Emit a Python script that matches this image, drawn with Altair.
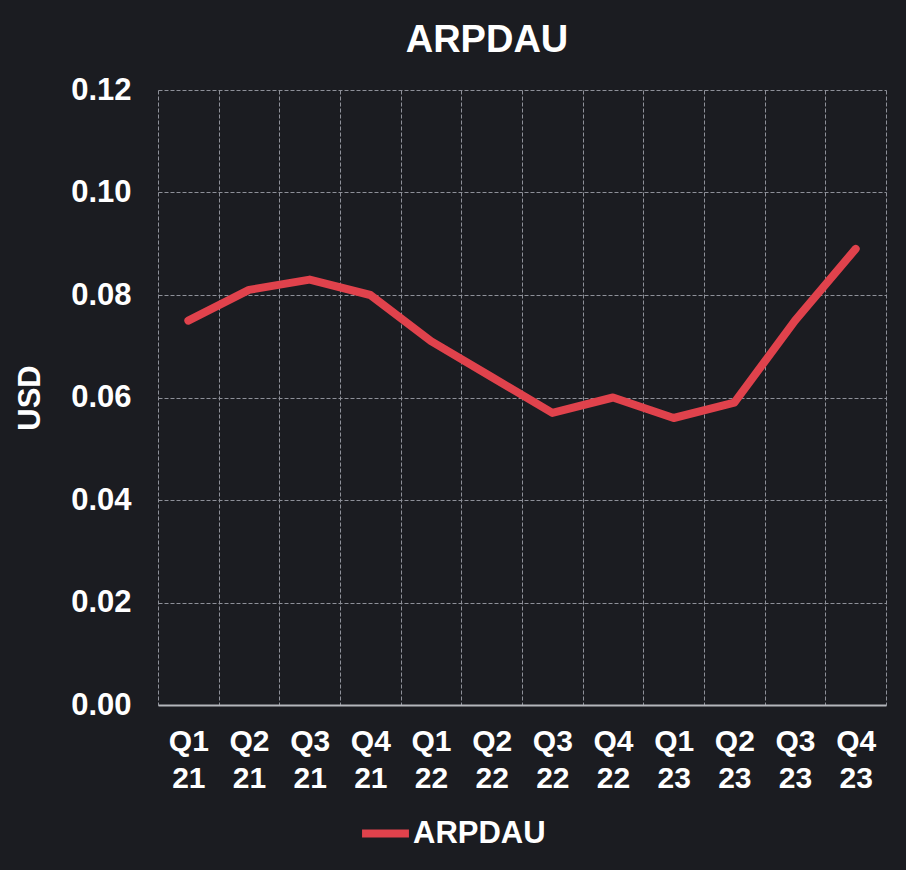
import altair as alt
import pandas as pd

quarters = ["Q1 21", "Q2 21", "Q3 21", "Q4 21", "Q1 22", "Q2 22",
            "Q3 22", "Q4 22", "Q1 23", "Q2 23", "Q3 23", "Q4 23"]
arpdau = [0.075, 0.081, 0.083, 0.080, 0.071, 0.064,
          0.057, 0.060, 0.056, 0.059, 0.075, 0.089]
series = ["ARPDAU"] * len(quarters)

df = pd.DataFrame({"quarter": quarters, "value": arpdau, "series": series})

BG = "#1b1c21"
RED = "#e0424c"
FONT = "Liberation Sans"

chart = alt.Chart(df).mark_line(strokeWidth=8, strokeCap="round", strokeJoin="round").encode(
    x=alt.X("quarter:N", sort=quarters, bandPosition=0.5,
            scale=alt.Scale(type="band", paddingInner=0, paddingOuter=0),
            axis=alt.Axis(title=None, labelAngle=0, tickBand="extent", grid=True,
                          ticks=False, domain=True, domainColor="#b4b6bc", domainWidth=2,
                          labelExpr="split(datum.label, ' ')", labelLineHeight=37,
                          labelFontSize=30, labelPadding=21, labelBaseline="top")),
    y=alt.Y("value:Q", scale=alt.Scale(domain=[0, 0.12], nice=False),
            axis=alt.Axis(title="USD", values=[0, 0.02, 0.04, 0.06, 0.08, 0.10, 0.12],
                          format=".2f", ticks=False, domain=False, labelPadding=27,
                          titlePadding=24)),
    color=alt.Color("series:N", scale=alt.Scale(range=[RED]),
                    legend=alt.Legend(title=None, orient="none", legendX=200, legendY=716,
                                      symbolType="stroke", symbolStrokeWidth=8, symbolSize=2200,
                                      labelFontSize=31, labelFont=FONT, labelFontWeight="bold",
                                      labelColor="white", labelOffset=0)),
).properties(
    width=728, height=615,
    title=alt.TitleParams("ARPDAU", fontSize=38, font=FONT, fontWeight="bold",
                          color="white", anchor="middle", dx=-35, offset=14),
    autosize=alt.AutoSizeParams(type="none"),
    padding={"left": 158, "top": 90, "right": 20, "bottom": 165},
    background=BG,
).configure_view(stroke=None).configure_axis(
    labelFont=FONT, labelFontSize=31, labelFontWeight="bold", labelColor="white",
    titleFont=FONT, titleFontSize=31, titleFontWeight="bold", titleColor="white",
    gridColor="#8e9099", gridDash=[4, 2], gridWidth=1,
)

chart.save("out.html", embed_options={"renderer": "svg", "actions": False})
